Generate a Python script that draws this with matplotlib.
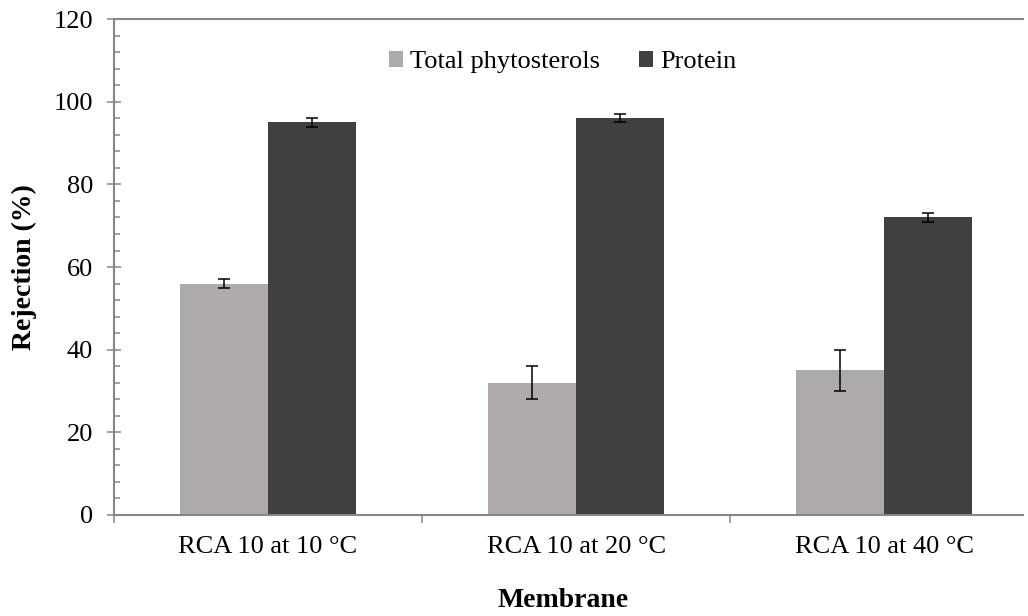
import matplotlib.pyplot as plt
import numpy as np

# data
membranes = ['RCA 10 at 10 °C', 'RCA 10 at 20 °C', 'RCA 10 at 40 °C']
phyto = [56, 32, 35]
phyto_err = [1, 4, 5]
protein = [95, 96, 72]
protein_err = [1, 1, 1]

plt.rcParams['font.family'] = ['Liberation Serif', 'DejaVu Serif']

fig = plt.figure(figsize=(10.28, 6.16), dpi=100)
ax = fig.add_axes([0.1109, 0.164, 0.884, 0.805])

x = np.arange(len(membranes))
w = 0.286
ax.bar(x - w / 2, phyto, w, color='#adaaa9', label='Total phytosterols')
ax.bar(x + w / 2, protein, w, color='#404040', label='Protein')
ax.errorbar(x - w / 2, phyto, yerr=phyto_err, fmt='none', ecolor='black', elinewidth=1.1, capsize=4.3, capthick=1.1)
ax.errorbar(x + w / 2, protein, yerr=protein_err, fmt='none', ecolor='black', elinewidth=1.1, capsize=4.3, capthick=1.1)

ax.set_xlim(-0.5, 2.45)
ax.set_ylim(0, 120)
ax.set_yticks(np.arange(0, 121, 20))
ax.set_yticks(np.arange(0, 121, 4), minor=True)
ax.set_xticks(x)
ax.set_xticklabels(membranes)
ax.set_xticks([-0.5, 0.5, 1.5], minor=True)

for s in ['left', 'bottom', 'top']:
    ax.spines[s].set_color('#868686')
    ax.spines[s].set_linewidth(1.5)
ax.spines['right'].set_visible(False)

ax.tick_params(axis='y', which='major', direction='inout', length=10, width=1.1, color='#868686', labelsize=19, pad=10)
ax.tick_params(axis='y', which='minor', direction='in', length=4.5, width=1.1, color='#868686')
ax.tick_params(axis='x', which='major', length=0, labelsize=19, pad=15)
ax.tick_params(axis='x', which='minor', direction='out', length=6, width=1.1, color='#868686')

ax.set_xlabel('Membrane', fontsize=20, fontweight='bold')
ax.xaxis.set_label_coords(0.494, -0.147)
ax.set_ylabel('Rejection (%)', fontsize=20, fontweight='bold')
ax.yaxis.set_label_coords(-0.085, 0.5)

ax.legend(loc='center left', bbox_to_anchor=(0.3784, 0.899), bbox_transform=fig.transFigure,
          ncol=2, frameon=False, fontsize=19, borderpad=0, borderaxespad=0,
          handlelength=0.53, handleheight=0.53, handletextpad=0.27, columnspacing=1.48)

fig.savefig('out.png', dpi=100)
